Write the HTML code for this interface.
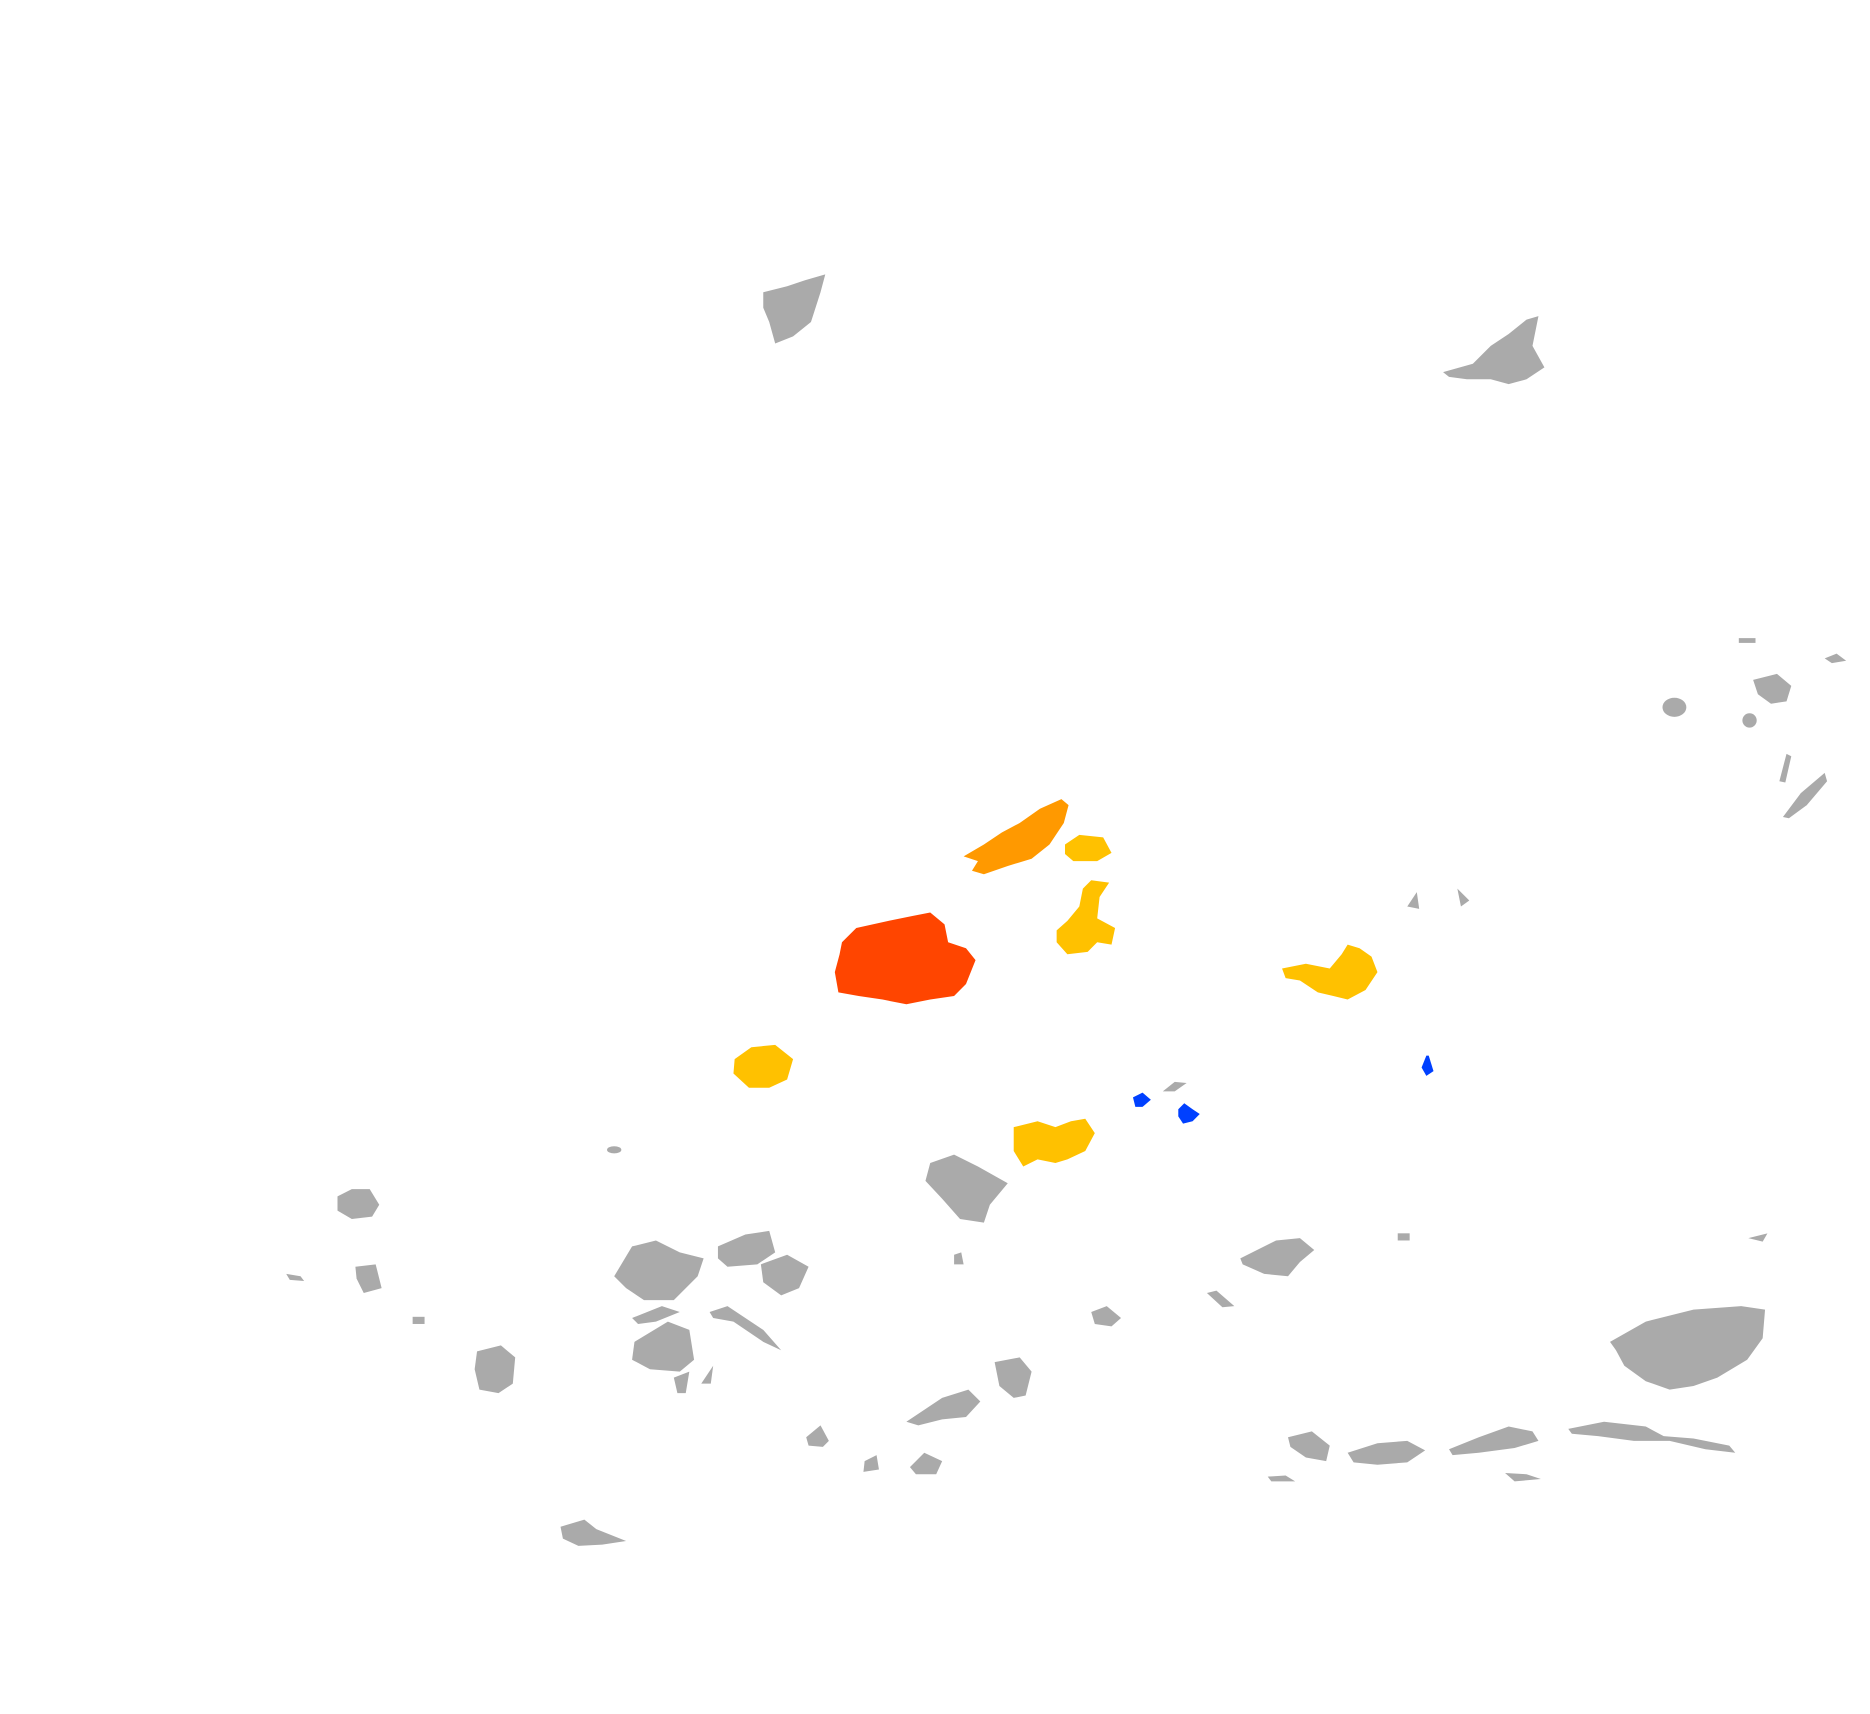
<!DOCTYPE html>
<html><head><style>html,body{margin:0;padding:0;background:#fff;}svg{display:block}</style></head>
<body>
<svg width="1870" height="1714" viewBox="0 0 1568 1437" xmlns="http://www.w3.org/2000/svg" preserveAspectRatio="none">
<rect width="1568" height="1437" fill="#fff"/>
<g fill="#aaaaaa">
<path d="M640 245 L660 240 L675 235 L692 230 L688 245 L680 270 L665 282 L650 288 L645 270 L640 258Z"/>
<path d="M1210 312 L1235 305 L1250 290 L1265 280 L1280 268 L1290 265 L1285 290 L1295 308 L1280 318 L1265 322 L1250 318 L1230 318 L1215 316Z"/>
<ellipse cx="1404" cy="593" rx="10" ry="8"/>
<path d="M1470 570 L1490 565 L1502 575 L1498 588 L1485 590 L1474 582Z"/>
<rect x="1458" y="535" width="14" height="4"/>
<path d="M1530 552 L1540 548 L1548 554 L1536 556Z"/>
<ellipse cx="1467" cy="604" rx="6" ry="6"/>
<path d="M1495 685 L1510 665 L1530 648 L1532 655 L1515 675 L1500 686Z"/>
<path d="M1492 655 L1498 632 L1502 634 L1497 656Z"/>
<path d="M1180 760 L1188 748 L1190 762Z"/>
<path d="M1222 745 L1232 755 L1225 760Z"/>
<ellipse cx="515" cy="964" rx="6" ry="3"/>
<path d="M283 1003 L295 997 L310 997 L318 1010 L312 1020 L295 1022 L283 1015Z"/>
<path d="M298 1062 L315 1060 L320 1080 L305 1084 L299 1072Z"/>
<path d="M240 1068 L252 1070 L255 1074 L243 1073Z"/>
<rect x="346" y="1104" width="10" height="6"/>
<path d="M400 1133 L420 1128 L432 1138 L430 1160 L418 1168 L402 1165 L398 1148Z"/>
<path d="M780 975 L800 968 L820 978 L845 992 L830 1010 L825 1025 L805 1022 L790 1005 L776 990Z"/>
<path d="M800 1052 L806 1050 L808 1060 L800 1060Z"/>
<path d="M515 1070 L530 1045 L550 1040 L570 1050 L590 1055 L585 1070 L565 1090 L540 1090 L525 1080Z"/>
<path d="M530 1105 L555 1095 L570 1100 L550 1108 L535 1110Z"/>
<path d="M602 1045 L625 1035 L645 1032 L650 1050 L635 1060 L610 1062 L602 1055Z"/>
<path d="M638 1060 L660 1052 L678 1062 L670 1080 L655 1086 L640 1075Z"/>
<path d="M532 1125 L560 1108 L578 1115 L582 1140 L570 1150 L545 1148 L530 1140Z"/>
<path d="M565 1155 L578 1150 L575 1168 L568 1168Z"/>
<path d="M588 1160 L598 1145 L596 1160Z"/>
<path d="M595 1100 L610 1095 L640 1115 L655 1132 L640 1125 L615 1108 L598 1105Z"/>
<path d="M834 1142 L855 1138 L865 1150 L860 1170 L850 1172 L838 1162Z"/>
<path d="M760 1192 L790 1172 L812 1165 L822 1175 L810 1188 L790 1190 L770 1195Z"/>
<path d="M676 1205 L688 1195 L695 1208 L690 1213 L678 1212Z"/>
<path d="M725 1225 L735 1220 L737 1232 L724 1234Z"/>
<path d="M763 1230 L775 1218 L790 1225 L785 1236 L768 1236Z"/>
<path d="M915 1100 L928 1095 L940 1105 L932 1112 L918 1110Z"/>
<path d="M1040 1055 L1070 1040 L1090 1038 L1102 1048 L1090 1058 L1080 1070 L1060 1068 L1042 1060Z"/>
<path d="M1012 1084 L1020 1082 L1035 1095 L1025 1096Z"/>
<rect x="1172" y="1034" width="10" height="6"/>
<path d="M1466 1038 L1482 1034 L1478 1041Z"/>
<path d="M1350 1125 L1380 1108 L1420 1098 L1460 1095 L1480 1098 L1478 1122 L1465 1140 L1440 1155 L1420 1162 L1400 1165 L1380 1158 L1362 1145 L1355 1132Z"/>
<path d="M1080 1205 L1100 1200 L1115 1212 L1112 1225 L1095 1222 L1082 1213Z"/>
<path d="M1130 1218 L1155 1210 L1180 1208 L1195 1216 L1180 1226 L1155 1228 L1135 1226Z"/>
<path d="M1215 1215 L1240 1205 L1265 1196 L1285 1200 L1290 1208 L1270 1214 L1240 1218 L1218 1220Z"/>
<path d="M1315 1198 L1345 1192 L1380 1196 L1395 1204 L1420 1206 L1450 1212 L1455 1218 L1430 1215 L1400 1208 L1370 1208 L1340 1204 L1318 1202Z"/>
<path d="M1262 1235 L1280 1236 L1292 1240 L1270 1242Z"/>
<path d="M1063 1238 L1078 1237 L1086 1242 L1066 1242Z"/>
<path d="M470 1280 L490 1274 L500 1282 L525 1292 L505 1295 L485 1296 L472 1290Z"/>
<path d="M975 915 L985 907 L995 908 L985 915Z"/>
</g>
<g fill="#ff4500">
<path d="M706 790 L718 778 L745 772 L765 768 L780 765 L792 775 L795 790 L810 795 L818 805 L810 825 L800 835 L780 838 L760 842 L740 838 L720 835 L703 832 L700 815 L704 800Z"/>
</g>
<g fill="#ff9900">
<path d="M808 718 L825 708 L840 698 L855 690 L872 678 L890 670 L896 675 L892 690 L880 708 L865 720 L845 726 L825 733 L815 730 L820 722Z"/>
</g>
<g fill="#ffc100">
<path d="M893 708 L905 700 L925 702 L932 715 L920 722 L900 722 L893 716Z"/>
<path d="M886 780 L895 772 L905 760 L908 745 L915 738 L930 740 L922 752 L920 770 L935 778 L932 792 L920 790 L912 798 L895 800 L886 790Z"/>
<path d="M616 888 L630 878 L650 876 L665 888 L660 905 L645 912 L628 912 L615 900Z"/>
<path d="M1075 812 L1095 808 L1115 812 L1125 800 L1130 792 L1140 795 L1150 802 L1155 815 L1145 830 L1130 838 L1118 835 L1105 832 L1090 822 L1078 820Z"/>
<path d="M850 945 L870 940 L885 945 L898 940 L910 938 L918 950 L910 965 L895 972 L885 975 L870 972 L858 978 L850 965Z"/>
</g>
<g fill="#0040ff">
<path d="M950 920 L958 916 L965 922 L958 928 L952 928Z"/>
<path d="M988 930 L993 925 L1000 930 L1006 934 L1000 940 L992 942 L988 936Z"/>
<path d="M1192 895 L1196 885 L1198 885 L1202 898 L1196 902Z"/>
</g>
</svg>
</body></html>
